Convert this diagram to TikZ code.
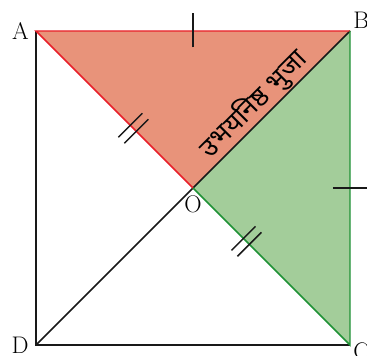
\documentclass[tikz,border=0pt]{standalone}
\usepackage{fontspec}
\newfontfamily\devfont[Script=Devanagari]{Noto Sans}
\usetikzlibrary{positioning,calc}

\definecolor{redfill}{HTML}{E8937A}
\definecolor{greenfill}{HTML}{A3CD9A}
\definecolor{redline}{HTML}{E8202A}
\definecolor{greenline}{HTML}{1F9236}

\begin{document}
\begin{tikzpicture}[scale=2.07,
    side/.style={line width=1.2pt, black!90},
    tick/.style={line width=1.1pt, black!90},
    lbl/.style={font=\fontsize{18}{21}\selectfont}]

    \useasboundingbox (-0.4586,-0.14) rectangle (4.2166,4.395);

    \coordinate (D) at (0,0);
    \coordinate (C) at (4,0);
    \coordinate (B) at (4,4);
    \coordinate (A) at (0,4);
    \coordinate (O) at (2,2);

    \fill[redfill] (A) -- (B) -- (O) -- cycle;
    \fill[greenfill] (O) -- (B) -- (C) -- cycle;

    \draw[side] (A) -- (D) -- (C);
    \draw[side] (D) -- (O) -- (B);
    \draw[redline, line width=1.1pt] (B) -- (A) -- (O);
    \draw[greenline, line width=1.1pt] (B) -- (C) -- (O);

    % equal sides
    \coordinate (ab) at ($(A)!0.5!(B)$);
    \coordinate (bc) at ($(B)!0.5!(C)$);
    \coordinate (ao) at ($(A)!0.62!(O)$);
    \coordinate (oc) at ($(O)!0.34!(C)$);
    \draw[tick] (ab) ++(0,-0.21) -- ++(0,0.44);
    \draw[tick] (bc) ++(-0.22,0) -- ++(0.44,0);
    \foreach \p in {ao,oc}
        \foreach \s in {-1,1}
            \draw[tick] ($(\p)+(\s*0.038,-\s*0.038)$) ++(-0.153,-0.153) -- ++(0.306,0.306);

    \node[font=\devfont\fontsize{20}{24}\selectfont, rotate=45, anchor=south, inner sep=0.5pt]
        (common) at ($(O)!0.46!(B)$) {उभयनिष्ठ भुजा};

    \node[lbl, left=2pt] (labA) at (A) {A};
    \node[lbl, above right=-2pt and -1pt] (labB) at (B) {B};
    \node[lbl, below right=-5pt and -1pt] (labC) at (C) {C};
    \node[lbl, left=2pt] (labD) at (D) {D};
    \node[lbl, below=2pt] (labO) at (O) {O};

\end{tikzpicture}
\end{document}
